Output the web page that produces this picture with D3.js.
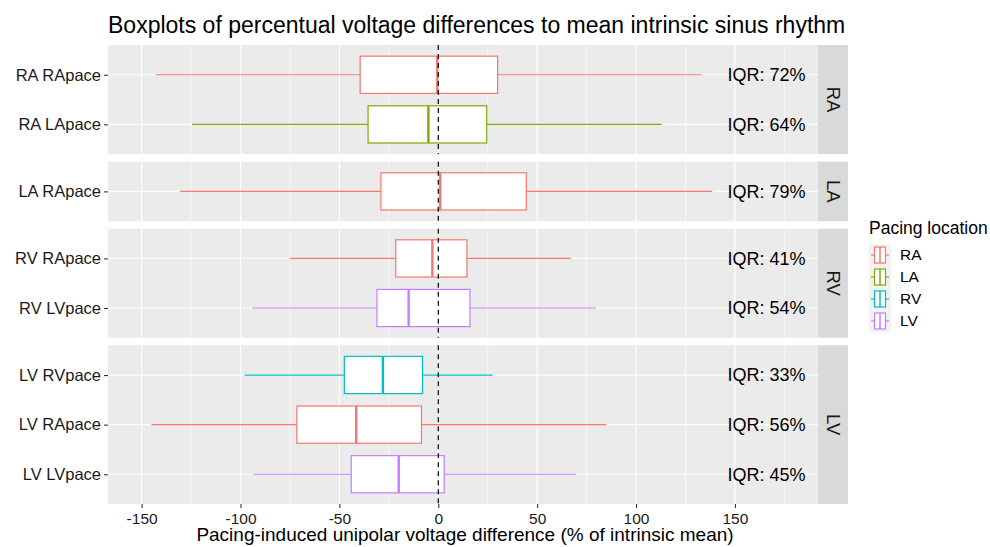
<!DOCTYPE html>
<html>
<head>
<meta charset="utf-8">
<script src="https://cdn.jsdelivr.net/npm/d3@7"></script>
<style>
body { margin: 0; background: #fff; }
text { font-family: "Liberation Sans", Arial, sans-serif; }
</style>
</head>
<body>
<div id="chart"></div>
<script>

// data
var facets = ["RA", "LA", "RV", "LV"];
var rowLabels = ["RA RApace", "RA LApace", "LA RApace", "RV RApace", "RV LVpace", "LV RVpace", "LV RApace", "LV LVpace"];
var rowFacet = ["RA", "RA", "LA", "RV", "RV", "LV", "LV", "LV"];
var pacing = ["RA", "LA", "RA", "RA", "LV", "RV", "RA", "LV"];
var whiskerLow = [-143, -124.5, -130.5, -75, -94, -98, -145, -93.5];
var q1 = [-39.5, -35.5, -29, -21.5, -31, -47.5, -71.5, -44];
var median = [-0.5, -5, 1, -3, -15, -28, -41.5, -20];
var q3 = [30, 24.5, 44.5, 14.5, 16, -8, -8.5, 3];
var whiskerHigh = [133, 113, 138.5, 67, 79.5, 27.5, 85, 69.5];
var iqrLabels = ["IQR: 72%", "IQR: 64%", "IQR: 79%", "IQR: 41%", "IQR: 54%", "IQR: 33%", "IQR: 56%", "IQR: 45%"];
var pacingLevels = ["RA", "LA", "RV", "LV"];
var pacingColors = ["#F8766D", "#7CAE00", "#00BFC4", "#C77CFF"];
var xTicks = [-150, -100, -50, 0, 50, 100, 150];

var rows = rowLabels.map(function(d, i) {
  return {label: d, facet: rowFacet[i], pace: pacing[i], lo: whiskerLow[i], q1: q1[i],
          med: median[i], q3: q3[i], hi: whiskerHigh[i], iqr: iqrLabels[i]};
});

var W = 990, H = 547;
var panelL = 108, panelR = 818, stripW = 30;
var top0 = 45, bottom0 = 504, gap = 7.5;
var labelX = 166;

var svg = d3.select("#chart").append("svg")
  .attr("width", W).attr("height", H);

var x = d3.scaleLinear().domain([-167, 192]).range([panelL, panelR]);
var color = d3.scaleOrdinal().domain(pacingLevels).range(pacingColors);

var minorTicks = [];
for (var i = 0; i <= xTicks.length; i++) {
  var m = (i === 0 ? xTicks[0] - 25 : xTicks[i - 1] + 25);
  if (m > x.domain()[0] && m < x.domain()[1]) minorTicks.push(m);
}

// title
svg.append("text")
  .attr("x", panelL).attr("y", 32.5)
  .attr("font-size", "23px").attr("fill", "#000")
  .text("Boxplots of percentual voltage differences to mean intrinsic sinus rhythm");

// facet heights (free space, 0.6 expansion each side)
var counts = facets.map(function(f) { return rowFacet.filter(function(r) { return r === f; }).length; });
var units = counts.map(function(n) { return n - 1 + 1.2; });
var unit = (bottom0 - top0 - gap * (facets.length - 1)) / d3.sum(units);

var panelTop = top0;
facets.forEach(function(f, fi) {
  var pt = panelTop;
  var h = units[fi] * unit;
  var fr = rows.filter(function(r) { return r.facet === f; });
  var y = d3.scalePoint().domain(fr.map(function(r) { return r.label; }))
    .range([pt, pt + h]).padding(0.6);
  var boxH = 0.75 * y.step();

  var g = svg.append("g");
  g.append("rect").attr("x", panelL).attr("y", pt)
    .attr("width", panelR - panelL).attr("height", h).attr("fill", "#EBEBEB");

  g.selectAll(".minor").data(minorTicks).enter().append("line")
    .attr("x1", function(d) { return x(d); }).attr("x2", function(d) { return x(d); })
    .attr("y1", pt).attr("y2", pt + h)
    .attr("stroke", "#fff").attr("stroke-width", 0.6);
  g.selectAll(".major").data(xTicks).enter().append("line")
    .attr("x1", function(d) { return x(d); }).attr("x2", function(d) { return x(d); })
    .attr("y1", pt).attr("y2", pt + h)
    .attr("stroke", "#fff").attr("stroke-width", 1.2);
  g.selectAll(".hgrid").data(fr).enter().append("line")
    .attr("x1", panelL).attr("x2", panelR)
    .attr("y1", function(d) { return y(d.label); }).attr("y2", function(d) { return y(d.label); })
    .attr("stroke", "#fff").attr("stroke-width", 1.2);

  // boxplots
  var b = g.selectAll(".box").data(fr).enter().append("g");
  b.append("line")
    .attr("x1", function(d) { return x(d.lo); }).attr("x2", function(d) { return x(d.q1); })
    .attr("y1", function(d) { return y(d.label); }).attr("y2", function(d) { return y(d.label); })
    .attr("stroke", function(d) { return color(d.pace); }).attr("stroke-width", 1.2);
  b.append("line")
    .attr("x1", function(d) { return x(d.q3); }).attr("x2", function(d) { return x(d.hi); })
    .attr("y1", function(d) { return y(d.label); }).attr("y2", function(d) { return y(d.label); })
    .attr("stroke", function(d) { return color(d.pace); }).attr("stroke-width", 1.2);
  b.append("rect")
    .attr("x", function(d) { return x(d.q1); })
    .attr("width", function(d) { return x(d.q3) - x(d.q1); })
    .attr("y", function(d) { return y(d.label) - boxH / 2; })
    .attr("height", boxH)
    .attr("fill", "#fff")
    .attr("stroke", function(d) { return color(d.pace); }).attr("stroke-width", 1.2);
  b.append("line")
    .attr("x1", function(d) { return x(d.med); }).attr("x2", function(d) { return x(d.med); })
    .attr("y1", function(d) { return y(d.label) - boxH / 2; })
    .attr("y2", function(d) { return y(d.label) + boxH / 2; })
    .attr("stroke", function(d) { return color(d.pace); }).attr("stroke-width", 2.4);

  // zero line
  g.append("line")
    .attr("x1", x(0)).attr("x2", x(0)).attr("y1", pt).attr("y2", pt + h)
    .attr("stroke", "#000").attr("stroke-width", 1.2).attr("stroke-dasharray", "5,4");

  // IQR labels
  g.selectAll(".iqr").data(fr).enter().append("text")
    .attr("x", x(labelX)).attr("y", function(d) { return y(d.label); })
    .attr("dy", "0.35em").attr("text-anchor", "middle")
    .attr("font-size", "18px").attr("fill", "#000")
    .text(function(d) { return d.iqr; });

  // strip
  g.append("rect").attr("x", panelR).attr("y", pt)
    .attr("width", stripW).attr("height", h).attr("fill", "#D9D9D9");
  g.append("text")
    .attr("transform", "translate(" + (panelR + stripW / 2) + "," + (pt + h / 2) + ") rotate(90)")
    .attr("text-anchor", "middle").attr("dy", "0.35em")
    .attr("font-size", "18.5px").attr("fill", "#1A1A1A")
    .text(f);

  // y axis
  var ya = g.append("g").attr("transform", "translate(" + panelL + ",0)")
    .call(d3.axisLeft(y).tickSize(4).tickPadding(3));
  ya.select(".domain").remove();
  ya.selectAll(".tick line").attr("stroke", "#333").attr("stroke-width", 1.1);
  ya.selectAll(".tick text").attr("font-size", "16.5px").attr("fill", "#1A1A1A")
    .attr("font-family", "Liberation Sans, Arial, sans-serif");

  panelTop += h + gap;
});

// x axis
var xa = svg.append("g").attr("transform", "translate(0," + bottom0 + ")")
  .call(d3.axisBottom(x).tickValues(xTicks).tickFormat(function(d) { return String(d); })
    .tickSize(4).tickPadding(5));
xa.select(".domain").remove();
xa.selectAll(".tick line").attr("stroke", "#333").attr("stroke-width", 1.1);
xa.selectAll(".tick text").attr("font-size", "15.5px").attr("fill", "#1A1A1A")
  .attr("font-family", "Liberation Sans, Arial, sans-serif");

svg.append("text")
  .attr("x", 465).attr("y", 540.5)
  .attr("text-anchor", "middle").attr("font-size", "19px").attr("fill", "#000")
  .text("Pacing-induced unipolar voltage difference (% of intrinsic mean)");

// legend
var lg = svg.append("g");
lg.append("text").attr("x", 869).attr("y", 234)
  .attr("font-size", "17.5px").attr("fill", "#000").text("Pacing location");
var keyH = 22, keyW = 22, key0 = 244;
var k = lg.selectAll(".key").data(pacingLevels).enter().append("g")
  .attr("transform", function(d, i) { return "translate(869," + (key0 + i * keyH) + ")"; });
k.append("rect").attr("width", keyW).attr("height", keyH).attr("fill", "#F2F2F2");
k.append("line").attr("x1", 2).attr("x2", 20).attr("y1", keyH / 2).attr("y2", keyH / 2)
  .attr("stroke", function(d) { return color(d); }).attr("stroke-width", 1.2);
k.append("rect").attr("x", 5.5).attr("width", 11).attr("y", 3).attr("height", keyH - 6)
  .attr("fill", "#fff").attr("stroke", function(d) { return color(d); }).attr("stroke-width", 1.2);
k.append("line").attr("x1", 11).attr("x2", 11).attr("y1", 3).attr("y2", keyH - 3)
  .attr("stroke", function(d) { return color(d); }).attr("stroke-width", 1.5);
k.append("text").attr("x", 31).attr("y", keyH / 2).attr("dy", "0.35em")
  .attr("font-size", "15.5px").attr("fill", "#000").text(function(d) { return d; });

</script>
</body>
</html>
